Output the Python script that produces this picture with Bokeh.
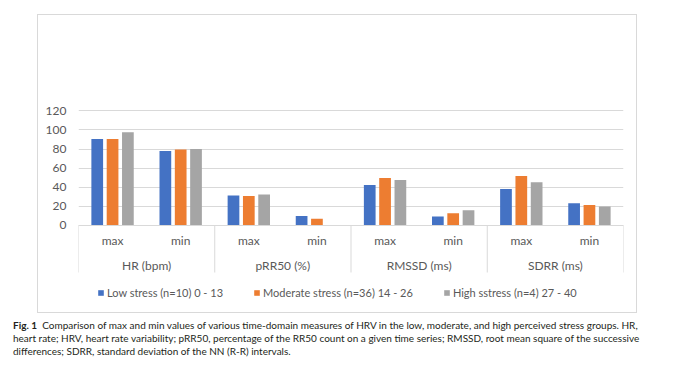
from bokeh.plotting import figure
from bokeh.models import (FactorRange, ColumnDataSource, FixedTicker, Legend, LegendItem,
                          Div, Range1d)
from bokeh.transform import dodge
from bokeh.layouts import column
from bokeh.core.properties import value
from bokeh.embed import file_html
from bokeh.resources import INLINE

# ---- data ----
groups = ["HR (bpm)", "pRR50 (%)", "RMSSD (ms)", "SDRR (ms)"]
stats = ["max", "min"]
low = [90.5, 78, 31, 9.5, 42, 9, 38, 23]
moderate = [90.5, 79.5, 30.5, 6.5, 49.5, 12.5, 51.5, 21]
high = [97.5, 80, 32, 0, 47.5, 15.5, 45, 19.5]
series_names = ["Low stress (n=10) 0 - 13", "Moderate stress (n=36) 14 - 26",
                "High sstress (n=4) 27 - 40"]
y_ticks = [0, 20, 40, 60, 80, 100, 120]

colors = ["#4472C4", "#ED7D31", "#A5A5A5"]
FONT = "Lato"
TXT = "#595959"

factors = [(g, s) for g in groups for s in stats]
src = ColumnDataSource(dict(x=factors, low=low, moderate=moderate, high=high,
                            lab=[f[1] for f in factors]))

p = figure(x_range=FactorRange(*factors, group_padding=0, factor_padding=0, range_padding=0),
           y_range=Range1d(-94.2, 131.05),
           width=600, height=299, output_backend="svg", toolbar_location=None,
           min_border_left=40, min_border_right=15, min_border_top=85, min_border_bottom=0)
p.outline_line_color = None
p.xaxis.visible = False
p.xgrid.visible = False

yax = p.yaxis[0]
yax.ticker = FixedTicker(ticks=y_ticks)
yax.axis_line_color = None
yax.major_tick_line_color = None
yax.minor_tick_line_color = None
yax.major_tick_out = 0
yax.major_label_standoff = 12
yax.major_label_text_font = FONT
yax.major_label_text_font_size = "12px"
yax.major_label_text_color = TXT
p.ygrid.ticker = FixedTicker(ticks=y_ticks)
p.ygrid.grid_line_color = "#d9d9d9"

renderers = []
for key, off, col in zip(["low", "moderate", "high"], [-0.225, 0, 0.225], colors):
    r = p.vbar(x=dodge("x", off, range=p.x_range), top=key, width=0.172, bottom=0,
               source=src, fill_color=col, line_color=None)
    renderers.append(r)

# category separators (group boundaries)
bx = [(g, "max", -0.5) for g in groups] + [(groups[-1], "min", 0.5)]
p.segment(x0=bx, x1=bx, y0=[0] * len(bx), y1=[-50] * len(bx), line_color="#d9d9d9", line_width=1)

# sub-category and group labels
p.text(x="x", y=-16.2, text="lab", source=src, text_align="center", text_baseline="middle",
       text_font=value(FONT), text_font_size="12px", text_color=TXT)
gsrc = ColumnDataSource(dict(x=[(g, "max", 0.5) for g in groups], t=groups))
p.text(x="x", y=-43.0, text="t", source=gsrc, text_align="center", text_baseline="middle",
       text_font=value(FONT), text_font_size="12px", text_color=TXT)

legend = Legend(items=[LegendItem(label=n, renderers=[r]) for n, r in zip(series_names, renderers)],
                orientation="horizontal", location=(19, 15), glyph_width=7, glyph_height=7,
                label_standoff=3, spacing=30, padding=0, margin=0,
                border_line_color=None, background_fill_alpha=0,
                label_text_font=FONT, label_text_font_size="11px", label_text_color=TXT,
                label_height=14)
p.add_layout(legend)

p.margin = (14, 0, 0, 37)
p.styles = {"border": "1px solid #d9d9d9"}

caption = Div(text=(
    "<b>Fig. 1</b>&nbsp; Comparison of max and min values of various time-domain measures of HRV in the low, "
    "moderate, and high perceived stress groups. HR,<br>heart rate; HRV, heart rate variability; pRR50, "
    "percentage of the RR50 count on a given time series; RMSSD, root mean square of the successive<br>"
    "differences; SDRR, standard deviation of the NN (R-R) intervals."),
    width=660, margin=(6, 0, 0, 13),
    styles={"font-family": "Lato, sans-serif",
            "font-size": "10px", "line-height": "13px", "color": "#231f20", "white-space": "nowrap"})

layout = column(p, caption, spacing=0)
open("out.html", "w").write(file_html(layout, INLINE))
